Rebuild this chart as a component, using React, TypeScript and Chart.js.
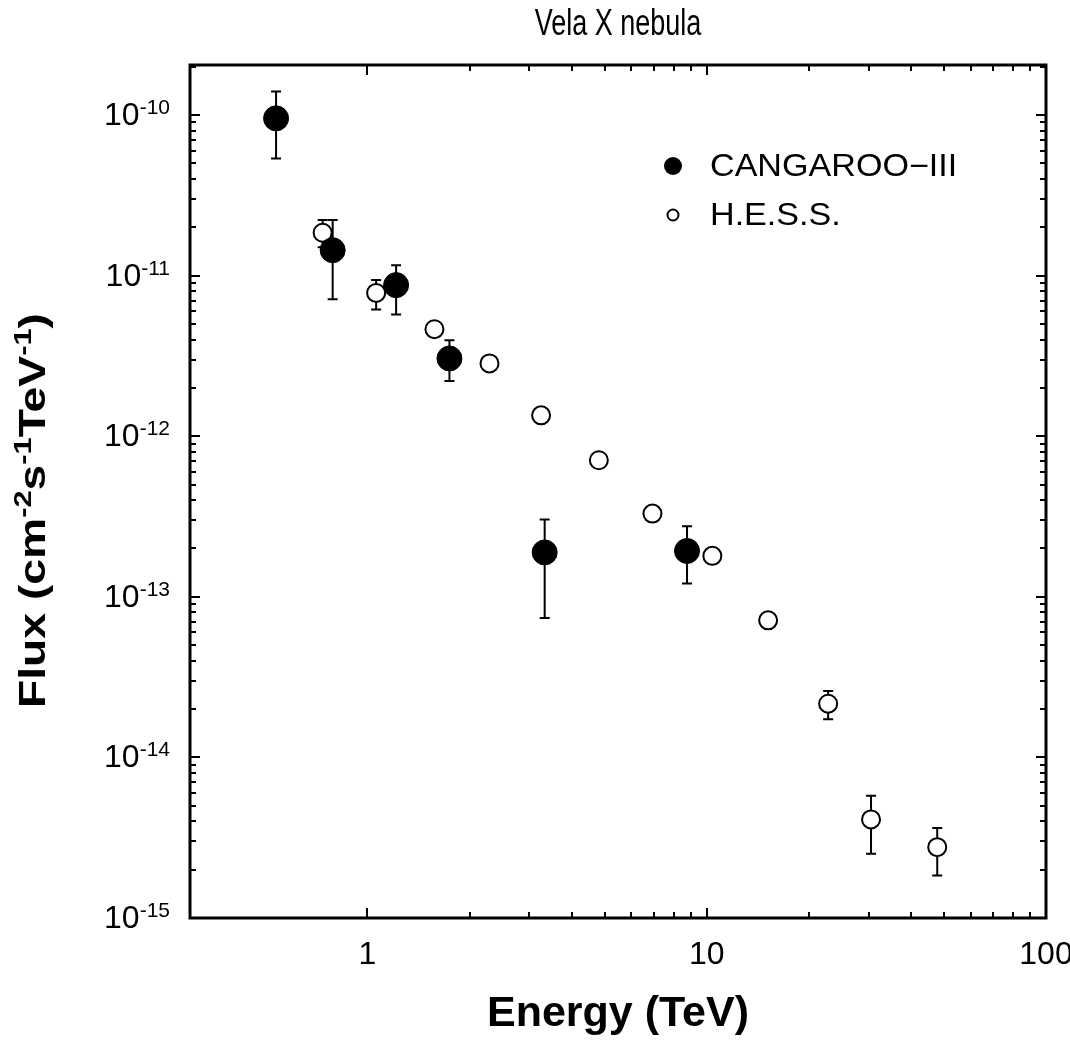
import React, { useEffect, useRef } from 'react';
import { Chart, registerables } from 'chart.js';

Chart.register(...registerables);

const chartTitle = 'Vela X nebula';
const xAxisTitle = 'Energy (TeV)';
// y-axis title as [text, isSuperscript] segments: Flux (cm-2s-1TeV-1)
const yAxisTitleParts: [string, boolean][] = [
  ['Flux (cm', false],
  ['-2', true],
  ['s', false],
  ['-1', true],
  ['TeV', false],
  ['-1', true],
  [')', false],
];
const seriesNames = ['CANGAROO−III', 'H.E.S.S.'];

const cangarooEnergy = [0.538, 0.79, 1.215, 1.745, 3.33, 8.75];
const cangarooFlux = [9.54e-11, 1.44e-11, 8.73e-12, 3.05e-12, 1.89e-13, 1.93e-13];
const cangarooFluxHigh = [1.4e-10, 2.22e-11, 1.16e-11, 3.96e-12, 3.03e-13, 2.75e-13];
const cangarooFluxLow = [5.37e-11, 7.14e-12, 5.73e-12, 2.21e-12, 7.38e-14, 1.21e-13];

const hessEnergy = [0.738, 1.061, 1.576, 2.29, 3.25, 4.81, 6.92, 10.39, 15.17, 22.8, 30.5, 47.8];
const hessFlux = [1.85e-11, 7.81e-12, 4.64e-12, 2.84e-12, 1.35e-12, 7.09e-13, 3.3e-13, 1.8e-13, 7.14e-14, 2.16e-14, 4.11e-15, 2.76e-15];
const hessFluxHigh = [2.22e-11, 9.38e-12, null, null, null, null, null, null, null, 2.59e-14, 5.77e-15, 3.63e-15];
const hessFluxLow = [1.5e-11, 6.16e-12, null, null, null, null, null, null, null, 1.73e-14, 2.51e-15, 1.84e-15];

const xTickValues = [1, 10, 100];
const xTickLabels = ['1', '10', '100'];
const yTickValues = [1e-15, 1e-14, 1e-13, 1e-12, 1e-11, 1e-10];
const yTickBase = ['10', '10', '10', '10', '10', '10'];
const yTickExponents = ['-15', '-14', '-13', '-12', '-11', '-10'];

const xRange = [0.3, 100];
const yRange = [1e-15, 2.05e-10];

const FONT = "'Liberation Sans', Arial, Helvetica, sans-serif";

const framePlugin = {
  id: 'frame',
  beforeDatasetsDraw(chart: any) {
    const ctx = chart.ctx;
    const xs = chart.scales.x;
    const ys = chart.scales.y;
    ctx.save();
    ctx.strokeStyle = '#000';
    ctx.lineWidth = 2;
    chart.data.datasets.forEach((ds: any) => {
      ds.data.forEach((p: any, i: number) => {
        const hi = ds.errHigh[i];
        const lo = ds.errLow[i];
        if (hi == null || lo == null) return;
        const px = xs.getPixelForValue(p.x);
        const pyH = ys.getPixelForValue(hi);
        const pyL = ys.getPixelForValue(lo);
        ctx.beginPath();
        ctx.moveTo(px, pyH);
        ctx.lineTo(px, pyL);
        ctx.moveTo(px - 5, pyH);
        ctx.lineTo(px + 5, pyH);
        ctx.moveTo(px - 5, pyL);
        ctx.lineTo(px + 5, pyL);
        ctx.stroke();
      });
    });
    ctx.restore();
  },
  afterDraw(chart: any) {
    const ctx = chart.ctx;
    const { left, right, top, bottom } = chart.chartArea;
    const xs = chart.scales.x;
    const ys = chart.scales.y;
    ctx.save();
    ctx.strokeStyle = '#000';
    // minor & major ticks, inward, all four sides
    ctx.lineWidth = 2;
    ctx.beginPath();
    for (let d = -1; d <= 2; d++) {
      for (let m = 1; m <= 9; m++) {
        const v = m * Math.pow(10, d);
        if (v < 1 || v > xs.max) continue;
        const px = Math.round(xs.getPixelForValue(v));
        const len = m === 1 ? 10 : 6;
        ctx.moveTo(px, bottom);
        ctx.lineTo(px, bottom - len);
        ctx.moveTo(px, top);
        ctx.lineTo(px, top + len);
      }
    }
    for (let d = -15; d <= -10; d++) {
      for (let m = 1; m <= 9; m++) {
        const v = m * Math.pow(10, d);
        if (v < ys.min * 0.999 || v > ys.max) continue;
        const py = Math.round(ys.getPixelForValue(v));
        const len = m === 1 ? 10 : 6;
        ctx.moveTo(left, py);
        ctx.lineTo(left + len, py);
        ctx.moveTo(right, py);
        ctx.lineTo(right - len, py);
      }
    }
    ctx.stroke();
    // frame
    ctx.lineWidth = 3;
    ctx.strokeRect(left, top, right - left, bottom - top);

    ctx.fillStyle = '#000';

    // y tick labels with superscript exponents
    ctx.textBaseline = 'alphabetic';
    ctx.textAlign = 'left';
    yTickValues.forEach((v, i) => {
      const py = ys.getPixelForValue(v);
      ctx.font = `21px ${FONT}`;
      const we = ctx.measureText(yTickExponents[i]).width;
      ctx.font = `32px ${FONT}`;
      const wb = ctx.measureText(yTickBase[i]).width;
      const xEnd = left - 20;
      ctx.fillText(yTickBase[i], xEnd - we - wb, py + 10);
      ctx.font = `21px ${FONT}`;
      ctx.fillText(yTickExponents[i], xEnd - we, py - 1);
    });

    // y axis title (rotated, with superscripts)
    ctx.save();
    ctx.translate(45, 708);
    ctx.rotate(-Math.PI / 2);
    let total = 0;
    yAxisTitleParts.forEach(([t, sup]) => {
      ctx.font = `bold ${sup ? 24 : 36}px ${FONT}`;
      total += ctx.measureText(t).width;
    });
    ctx.scale(395 / total, 1);
    let cx = 0;
    yAxisTitleParts.forEach(([t, sup]) => {
      ctx.font = `bold ${sup ? 24 : 36}px ${FONT}`;
      ctx.fillText(t, cx, sup ? -14 : 0);
      cx += ctx.measureText(t).width;
    });
    ctx.restore();

    // chart title (slightly tall glyphs like the reference)
    ctx.save();
    ctx.font = `27px ${FONT}`;
    ctx.textAlign = 'center';
    ctx.textBaseline = 'alphabetic';
    ctx.translate((left + right) / 2, 35);
    ctx.scale(1, 1.35);
    ctx.fillText(chartTitle, 0, 0);
    ctx.restore();

    // legend
    const rows = [166, 215];
    chart.data.datasets.forEach((ds: any, i: number) => {
      const y = rows[i];
      ctx.beginPath();
      if (i === 0) {
        ctx.arc(673, y, 9, 0, Math.PI * 2);
        ctx.fillStyle = '#000';
        ctx.fill();
      } else {
        ctx.arc(673, y, 5.5, 0, Math.PI * 2);
        ctx.fillStyle = '#fff';
        ctx.fill();
        ctx.lineWidth = 2;
        ctx.stroke();
      }
      ctx.save();
      ctx.fillStyle = '#000';
      ctx.font = `31px ${FONT}`;
      ctx.textAlign = 'left';
      ctx.textBaseline = 'middle';
      ctx.translate(710, y + 1);
      ctx.scale(1.1, 1);
      ctx.fillText(ds.label, 0, 0);
      ctx.restore();
    });
    ctx.restore();
  },
};

export default function App() {
  const canvasRef = useRef<HTMLCanvasElement | null>(null);

  useEffect(() => {
    const canvas = canvasRef.current;
    if (!canvas) return;
    const chart = new Chart(canvas, {
      type: 'scatter',
      data: {
        datasets: [
          {
            label: seriesNames[0],
            data: cangarooEnergy.map((e, i) => ({ x: e, y: cangarooFlux[i] })),
            errHigh: cangarooFluxHigh,
            errLow: cangarooFluxLow,
            pointStyle: 'circle',
            pointRadius: 12.5,
            pointHoverRadius: 12.5,
            backgroundColor: '#000',
            borderColor: '#000',
            borderWidth: 1,
            showLine: false,
          } as any,
          {
            label: seriesNames[1],
            data: hessEnergy.map((e, i) => ({ x: e, y: hessFlux[i] })),
            errHigh: hessFluxHigh,
            errLow: hessFluxLow,
            pointStyle: 'circle',
            pointRadius: 9,
            pointHoverRadius: 9,
            backgroundColor: '#fff',
            borderColor: '#000',
            borderWidth: 2,
            showLine: false,
          } as any,
        ],
      },
      options: {
        responsive: false,
        animation: false,
        layout: { padding: { left: 0, right: 24, top: 65, bottom: 0 } },
        plugins: {
          legend: { display: false },
          title: { display: false },
          tooltip: { enabled: false },
        },
        scales: {
          x: {
            type: 'logarithmic',
            min: xRange[0],
            max: xRange[1],
            grid: { display: false, drawTicks: false },
            border: { display: false },
            afterBuildTicks: (scale: any) => {
              scale.ticks = xTickValues.map((v) => ({ value: v, major: true }));
            },
            afterFit: (scale: any) => {
              scale.height = 122;
              scale.paddingLeft = 0;
              scale.paddingRight = 0;
            },
            ticks: {
              autoSkip: false,
              maxRotation: 0,
              minRotation: 0,
              padding: 18,
              color: '#000',
              font: { size: 32, family: FONT },
              callback: (_v: any, i: number) => xTickLabels[i],
            },
            title: {
              display: true,
              text: xAxisTitle,
              color: '#000',
              font: { size: 43, weight: 'bold', family: FONT },
              padding: { top: 0, bottom: 0 },
            },
          },
          y: {
            type: 'logarithmic',
            min: yRange[0],
            max: yRange[1],
            grid: { display: false, drawTicks: false },
            border: { display: false },
            afterBuildTicks: (scale: any) => {
              scale.ticks = yTickValues.map((v) => ({ value: v, major: true }));
            },
            afterFit: (scale: any) => {
              scale.width = 190;
              scale.paddingTop = 0;
              scale.paddingBottom = 0;
            },
            ticks: { display: false },
            title: { display: false },
          },
        },
      },
      plugins: [framePlugin],
    });
    return () => chart.destroy();
  }, []);

  return (
    <div style={{ position: 'fixed', left: 0, top: 0, width: 1070, height: 1040, background: '#fff' }}>
      <canvas ref={canvasRef} width={1070} height={1040} style={{ display: 'block' }} />
    </div>
  );
}
